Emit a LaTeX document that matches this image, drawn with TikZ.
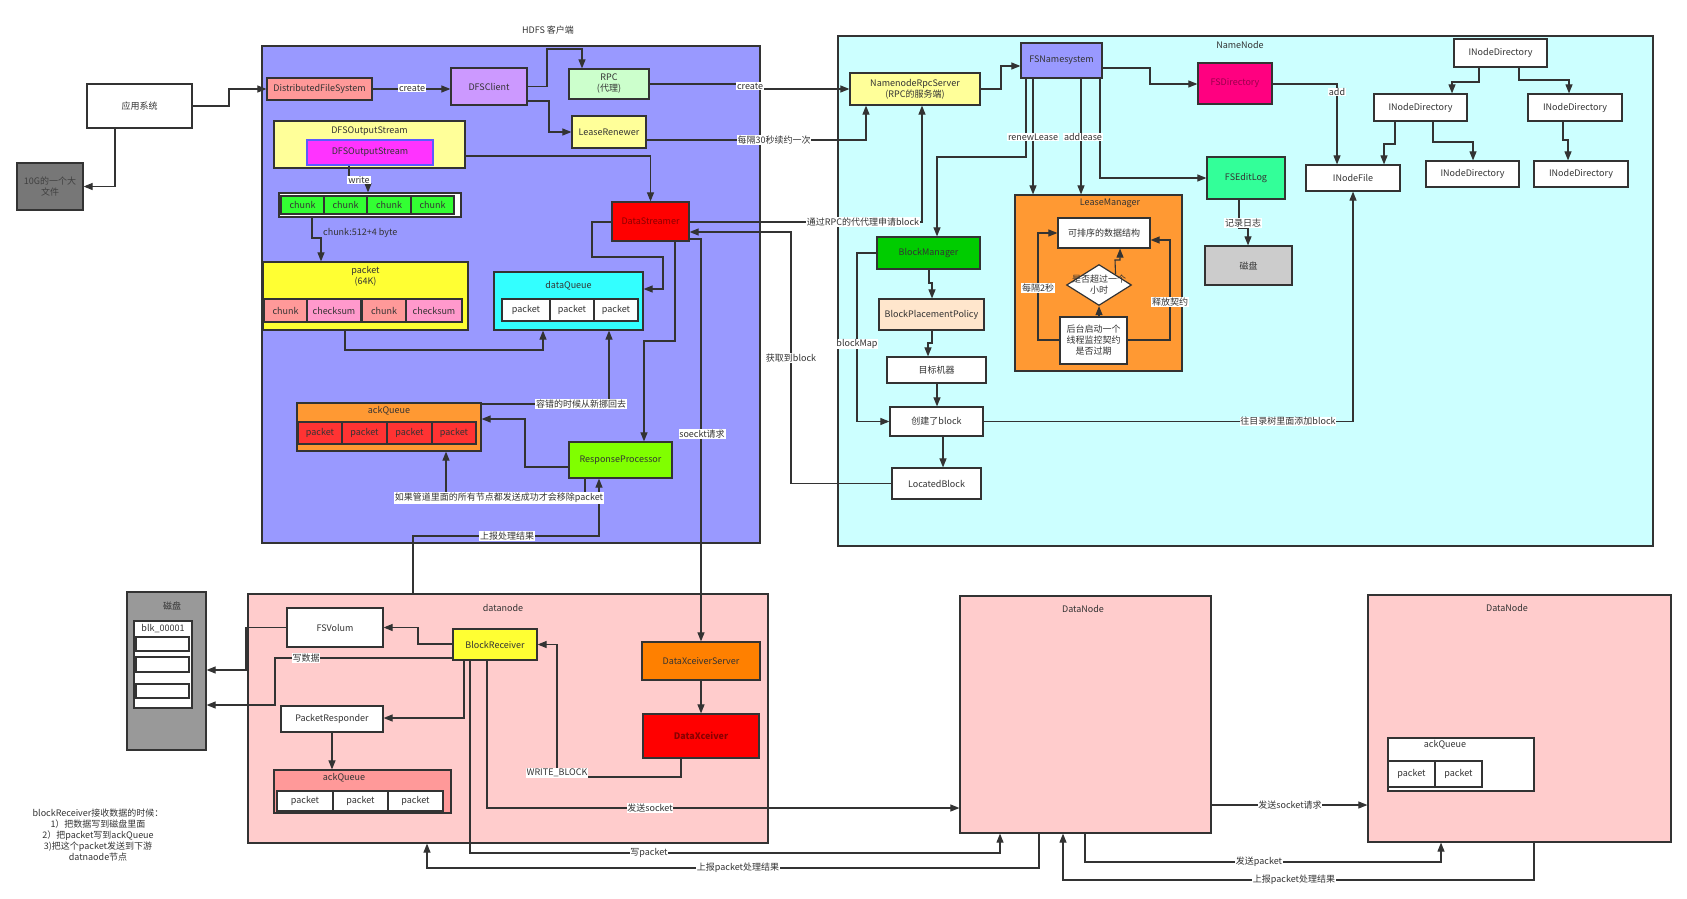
\documentclass[tikz,border=0pt]{standalone}
\usepackage{fontspec}
\setmainfont{Noto Sans CJK SC}
\usetikzlibrary{arrows.meta,shapes.geometric}
\definecolor{ln}{HTML}{333333}
\definecolor{tx}{HTML}{333333}
\definecolor{cBlue}{HTML}{9999FF}
\definecolor{cCyanL}{HTML}{CCFFFF}
\definecolor{cPink}{HTML}{FFCCCC}
\definecolor{cGray}{HTML}{999999}
\definecolor{cDark}{HTML}{777777}
\definecolor{cSalmon}{HTML}{FF9999}
\definecolor{cViolet}{HTML}{CC99FF}
\definecolor{cMint}{HTML}{CCFFCC}
\definecolor{cLYellow}{HTML}{FFFF99}
\definecolor{cMagenta}{HTML}{FF33FF}
\definecolor{cGreen}{HTML}{33FF33}
\definecolor{cYellow}{HTML}{FFFF33}
\definecolor{cCkPink}{HTML}{FF99CC}
\definecolor{cCyan}{HTML}{33FFFF}
\definecolor{cRed}{HTML}{FF0000}
\definecolor{cDRed}{HTML}{8A0000}
\definecolor{cOrange}{HTML}{FF9933}
\definecolor{cPktRed}{HTML}{FF3333}
\definecolor{cLime}{HTML}{80FF00}
\definecolor{cRose}{HTML}{FF0080}
\definecolor{cRoseT}{HTML}{99004C}
\definecolor{cSea}{HTML}{33FF99}
\definecolor{cLGray}{HTML}{CCCCCC}
\definecolor{cBM}{HTML}{00CC00}
\definecolor{cPeach}{HTML}{FFE6CC}
\definecolor{cDXS}{HTML}{FF8000}
\definecolor{cInBlue}{HTML}{5B5BFF}
\begin{document}
\begin{tikzpicture}[x=1pt,y=-1pt,font=\fontsize{9}{11}\selectfont,
 box/.style={draw=ln,line width=1.2pt,inner sep=0pt,align=center,text=tx},
 arr/.style={draw=ln,line width=1.1pt,-{Triangle[length=9pt,width=7pt]}},
 con/.style={draw=ln,line width=1.1pt},
 lbl/.style={fill=white,inner sep=0.8pt,text=tx},
 txt/.style={inner sep=0pt,text=tx,align=center}]
\useasboundingbox (0,0) rectangle (1687,899);

% ---------- containers ----------
\node[box,fill=cBlue,minimum width=498pt,minimum height=497pt] (client) at (511,294.5) {};
\node[txt] (clientT) at (548,30) {HDFS 客户端};
\node[box,fill=cCyanL,minimum width=815pt,minimum height=510pt] (nn) at (1245.5,291) {};
\node[txt] (nnT) at (1240,45) {NameNode};
\node[box,fill=cPink,minimum width=520pt,minimum height=249pt] (dn) at (508,718.5) {};
\node[txt] (dnT) at (503,608) {datanode};
\node[box,fill=cPink,minimum width=251pt,minimum height=237pt] (dn2) at (1085.5,714.5) {};
\node[txt] (dn2T) at (1083,609) {DataNode};
\node[box,fill=cPink,minimum width=303pt,minimum height=247pt] (dn3) at (1519.5,718.5) {};
\node[txt] (dn3T) at (1507,608) {DataNode};
\node[box,fill=cGray,minimum width=79pt,minimum height=158pt] (disk) at (166.5,671) {};
\node[txt] (diskT) at (172,606) {磁盘};

% ---------- left outside ----------
\node[box,fill=white,minimum width=105pt,minimum height=44pt] (app) at (139.5,106) {应用系统};
\node[box,fill=cDark,minimum width=66pt,minimum height=47pt,text=black!75] (big) at (50,186.5) {10G的一个大\\文件};

% ---------- client ----------
\node[box,fill=cSalmon,minimum width=105pt,minimum height=22pt] (dfs) at (319.5,89) {DistributedFileSystem};
\node[box,fill=cViolet,minimum width=76pt,minimum height=37pt] (dfsc) at (489,86.5) {DFSClient};
\node[box,fill=cMint,minimum width=80pt,minimum height=30pt] (rpc) at (609,84) {RPC\\(代理)};
\node[box,fill=cLYellow,minimum width=74pt,minimum height=32pt] (lr) at (609,132) {LeaseRenewer};
\node[box,fill=cLYellow,minimum width=191pt,minimum height=47pt] (dos) at (369.5,144.5) {};
\node[txt] (dosT) at (369.5,131.5) {DFSOutputStream};
\node[box,draw=cInBlue,fill=cMagenta,minimum width=126pt,minimum height=25pt] (dosin) at (370,152.5) {DFSOutputStream};

\node[box,fill=white,minimum width=182pt,minimum height=24pt] (chunks) at (370,205) {};
\node[box,fill=cGreen,minimum width=43pt,minimum height=18pt] (ch1) at (302.5,205) {chunk};
\node[box,fill=cGreen,minimum width=43pt,minimum height=18pt] (ch2) at (345.5,205) {chunk};
\node[box,fill=cGreen,minimum width=44pt,minimum height=18pt] (ch3) at (389,205) {chunk};
\node[box,fill=cGreen,minimum width=43pt,minimum height=18pt] (ch4) at (432.5,205) {chunk};

\node[box,fill=cYellow,minimum width=205pt,minimum height=68pt] (pk) at (365.5,296) {};
\node[txt] (pkT) at (365.5,276) {packet\\(64K)};
\node[box,fill=cSalmon,minimum width=43pt,minimum height=23pt] (pc1) at (285.5,310.5) {chunk};
\node[box,fill=cCkPink,minimum width=54pt,minimum height=23pt] (pc2) at (334,310.5) {checksum};
\node[box,fill=cSalmon,minimum width=44pt,minimum height=23pt] (pc3) at (384,310.5) {chunk};
\node[box,fill=cCkPink,minimum width=56pt,minimum height=23pt] (pc4) at (434,310.5) {checksum};

\node[box,fill=cCyan,minimum width=149pt,minimum height=58pt] (dq) at (568.5,301) {};
\node[txt] (dqT) at (568.5,286) {dataQueue};
\node[box,fill=white,minimum width=48pt,minimum height=22pt] (dq1) at (526,310) {packet};
\node[box,fill=white,minimum width=44pt,minimum height=22pt] (dq2) at (572,310) {packet};
\node[box,fill=white,minimum width=44pt,minimum height=22pt] (dq3) at (616,310) {packet};

\node[box,fill=cRed,minimum width=77pt,minimum height=39pt,text=cDRed] (ds) at (650.5,221.5) {DataStreamer};

\node[box,fill=cOrange,minimum width=184pt,minimum height=48pt] (aq) at (389,427) {};
\node[txt] (aqT) at (389,411) {ackQueue};
\node[box,fill=cPktRed,minimum width=44pt,minimum height=22pt] (aq1) at (320,433) {packet};
\node[box,fill=cPktRed,minimum width=45pt,minimum height=22pt] (aq2) at (364.5,433) {packet};
\node[box,fill=cPktRed,minimum width=45pt,minimum height=22pt] (aq3) at (409.5,433) {packet};
\node[box,fill=cPktRed,minimum width=44pt,minimum height=22pt] (aq4) at (454,433) {packet};

\node[box,fill=cLime,minimum width=103pt,minimum height=36pt] (rp) at (620.5,460) {ResponseProcessor};

% ---------- namenode ----------
\node[box,fill=cLYellow,minimum width=130pt,minimum height=32pt] (nrs) at (915,89) {NamenodeRpcServer\\(RPC的服务端)};
\node[box,fill=cBlue,minimum width=81pt,minimum height=35pt] (fsn) at (1061.5,60.5) {FSNamesystem};
\node[box,fill=cRose,minimum width=74pt,minimum height=41pt,text=cRoseT] (fsd) at (1235,83.5) {FSDirectory};
\node[box,fill=cSea,minimum width=78pt,minimum height=42pt] (fse) at (1246,178) {FSEditLog};
\node[box,fill=cLGray,minimum width=87pt,minimum height=39pt] (disk2) at (1248.5,265.5) {磁盘};
\node[box,fill=white,minimum width=93pt,minimum height=28pt] (inr) at (1500.5,53) {INodeDirectory};
\node[box,fill=white,minimum width=93pt,minimum height=27pt] (inl) at (1420.5,107.5) {INodeDirectory};
\node[box,fill=white,minimum width=94pt,minimum height=27pt] (inrr) at (1575,107.5) {INodeDirectory};
\node[box,fill=white,minimum width=94pt,minimum height=26pt] (inf) at (1353,178) {INodeFile};
\node[box,fill=white,minimum width=93pt,minimum height=26pt] (inm) at (1472.5,174) {INodeDirectory};
\node[box,fill=white,minimum width=94pt,minimum height=26pt] (inb) at (1581,174) {INodeDirectory};

\node[box,fill=cOrange,minimum width=167pt,minimum height=176pt] (lm) at (1098.5,283) {};
\node[txt] (lmT) at (1110,203) {LeaseManager};
\node[box,fill=white,minimum width=92pt,minimum height=30pt] (sortds) at (1104,233) {可排序的数据结构};
\node[box,shape=diamond,fill=white,minimum width=65pt,minimum height=41pt] (dia) at (1099,285) {};
\node[txt] (diaT) at (1099,285) {是否超过一个\\小时};
\node[box,fill=white,minimum width=67pt,minimum height=47pt] (bg) at (1093.5,340.5) {后台启动一个\\线程监控契约\\是否过期};

\node[box,fill=cBM,minimum width=103pt,minimum height=32pt] (bm) at (928.5,253) {BlockManager};
\node[box,fill=cPeach,minimum width=105pt,minimum height=31pt] (bpp) at (931.5,314.5) {BlockPlacementPolicy};
\node[box,fill=white,minimum width=99pt,minimum height=26pt] (tm) at (936.5,370) {目标机器};
\node[box,fill=white,minimum width=93pt,minimum height=29pt] (cb) at (936.5,421.5) {创建了block};
\node[box,fill=white,minimum width=89pt,minimum height=31pt] (lb) at (936.5,483.5) {LocatedBlock};

% ---------- datanode ----------
\node[box,fill=white,minimum width=58pt,minimum height=87pt] (blk) at (163,664.5) {};
\node[txt] (blkT) at (163,629) {blk\_00001};
\node[box,fill=white,minimum width=53pt,minimum height=14pt] (s1) at (162.5,644) {};
\node[box,fill=white,minimum width=53pt,minimum height=15pt] (s2) at (162.5,664.5) {};
\node[box,fill=white,minimum width=53pt,minimum height=14pt] (s3) at (162.5,691) {};

\node[box,fill=white,minimum width=96pt,minimum height=39pt] (fsv) at (335,627.5) {FSVolum};
\node[box,fill=cYellow,minimum width=84pt,minimum height=31pt] (br) at (495,644.5) {BlockReceiver};
\node[box,fill=white,minimum width=102pt,minimum height=26pt] (pr) at (332,719) {PacketResponder};
\node[box,fill=cSalmon,minimum width=177pt,minimum height=43pt] (aqd) at (362.5,791.5) {};
\node[txt] (aqdT) at (344,778) {ackQueue};
\node[box,fill=white,minimum width=56pt,minimum height=20pt] (aqd1) at (305,801) {packet};
\node[box,fill=white,minimum width=55pt,minimum height=20pt] (aqd2) at (360.5,801) {packet};
\node[box,fill=white,minimum width=55pt,minimum height=20pt] (aqd3) at (415.5,801) {packet};
\node[box,fill=cDXS,minimum width=118pt,minimum height=38pt] (dxs) at (701,661) {DataXceiverServer};
\node[box,fill=cRed,minimum width=116pt,minimum height=44pt,text=cDRed,font=\fontsize{9}{11}\selectfont\bfseries] (dx) at (701,736) {DataXceiver};

\node[box,fill=white,minimum width=146pt,minimum height=53pt] (aqr) at (1461,764.5) {};
\node[txt] (aqrT) at (1445,745) {ackQueue};
\node[box,fill=white,minimum width=47pt,minimum height=26pt] (aqr1) at (1411.5,774) {packet};
\node[box,fill=white,minimum width=47pt,minimum height=26pt] (aqr2) at (1458.5,774) {packet};

\node[txt] (note) at (98,835) {blockReceiver接收数据的时候：\\1）把数据写到磁盘里面\\2）把packet写到ackQueue\\3)把这个packet发送到下游\\datnaode节点};

% ---------- connectors ----------
\draw[arr] (app.east) -- (229,106) |- (dfs.west);
\draw[arr] (app.south -| 115,0) |- (big.east);
\draw[arr] (dfs.east) -- (dfsc.west |- dfs.east);
\draw[arr] (dfsc.east) -| (547,49) -| (rpc.north -| 582,0);
\draw[arr] (dfsc.east |- 0,101) -| (549,132) -- (lr.west);
\draw[arr] (rpc.east) -- (755,84) -- (755,89) -- (nrs.west);
\draw[arr] (lr.east |- 0,140) -| (nrs.south -| 866,0);
\draw[arr] (dos.east |- 0,156) -| (ds.north);
\draw[arr] (dosin.south -| 349,0) -- (349,180) -| (chunks.north -| 368,0);
\draw[arr] (chunks.south -| 312,0) -- (312,238) -| (pk.north -| 321,0);
\draw[arr] (ds.west |- 0,222) -- (592,222) -- (592,257) -- (663,257) -- (663,289) -- (dq.east |- 0,289);
\draw[arr] (pk.south -| 345,0) -- (345,350) -| (dq.south -| 543,0);
\draw[arr] (aq.east |- 0,404) -- (609,404) -- (dq.south -| 609,0);
\draw[arr] (rp.west |- 0,467) -- (525,467) -- (525,419) -- (aq.east |- 0,419);
\draw[arr] (ds.south -| 675,0) -- (675,341) -- (644,341) -- (rp.north -| 644,0);
\draw[arr] (rp.south -| 585,0) -- (585,498) -- (446,498) -- (aq.south -| 446,0);
\draw[arr] (dn.north -| 413,0) -- (413,536) -- (599,536) -- (rp.south -| 599,0);
\draw[arr] (ds.east |- 0,239) -- (701,239) -- (dxs.north);
\draw[arr] (ds.east |- 0,222) -- (922,222) -- (nrs.south -| 922,0);
\draw[arr] (lb.west) -- (791,483.5) -- (791,232) -- (ds.east |- 0,232);

\draw[arr] (nrs.east) -- (1001,89) -- (1001,66) -- (fsn.west |- 0,66);
\draw[arr] (fsn.east |- 0,68) -- (1150,68) -- (1150,84) -- (fsd.west |- 0,84);
\draw[arr] (fsd.east |- 0,84) -- (1337,84) -- (inf.north -| 1337,0);
\draw[arr] (fsn.south -| 1100,0) |- (fse.west);
\draw[arr] (fse.south -| 1239,0) -- (1239,228) -- (1248,228) -- (disk2.north -| 1248,0);
\draw[arr] (inr.south -| 1479,0) -- (1479,82) -- (1452,82) -- (inl.north -| 1452,0);
\draw[arr] (inr.south -| 1519,0) -- (1519,80) -- (1569,80) -- (inrr.north -| 1569,0);
\draw[arr] (inl.south -| 1395,0) -- (1395,144) -- (1384,144) -- (inf.north -| 1384,0);
\draw[arr] (inl.south -| 1433,0) -- (1433,142) -- (1473,142) -- (inm.north -| 1473,0);
\draw[arr] (inrr.south -| 1563,0) -- (1563,140) -- (1568,140) -- (inb.north -| 1568,0);
\draw[arr] (cb.east) -| (inf.south);
\draw[arr] (fsn.south -| 1033,0) -- (lm.north -| 1033,0);
\draw[arr] (fsn.south -| 1081,0) -- (lm.north -| 1081,0);
\draw[arr] (fsn.south -| 1026,0) -- (1026,157) -- (937,157) -- (bm.north -| 937,0);
\draw[arr] (bg.north -| dia.south) -- (dia.south);
\draw[arr] (dia.north east) -- (1115,260) -- (1120,260) -- (sortds.south -| 1120,0);
\draw[arr] (bg.west |- 0,340) -- (1038,340) -- (1038,233) -- (sortds.west);
\draw[arr] (bg.east |- 0,340) -- (1170,340) -- (1170,240) -- (sortds.east |- 0,240);
\draw[arr] (bm.south -| 929,0) -- (929,283) -- (932,283) -- (bpp.north -| 932,0);
\draw[arr] (bpp.south -| 932,0) -- (932,343) -- (928,343) -- (tm.north -| 928,0);
\draw[arr] (tm.south -| 937,0) -- (cb.north -| 937,0);
\draw[arr] (cb.south -| 943,0) -- (lb.north -| 943,0);
\draw[arr] (bm.west) -- (857,253) -- (857,421.5) -- (cb.west);

\draw[arr] (br.west |- 0,644) -- (418,644) -- (418,627.5) -- (fsv.east);
\draw[arr] (fsv.west) -- (246,627.5) -- (246,670) -- (disk.east |- 0,670);
\draw[arr] (br.west |- 0,658) -- (275,658) -- (275,705) -- (disk.east |- 0,705);
\draw[arr] (br.south -| 464,0) -- (464,718) -- (pr.east |- 0,718);
\draw[arr] (pr.south) -- (aqd.north -| pr.south);
\draw[arr] (dxs.south) -- (dx.north);
\draw[arr] (dx.south -| 681,0) -- (681,777) -- (557,777) -- (557,644.5) -- (br.east);
\draw[arr] (br.south -| 487,0) -- (487,808) -- (dn2.west |- 0,808);
\draw[arr] (br.south -| 470,0) -- (470,853) -- (1000,853) -- (dn2.south -| 1000,0);
\draw[arr] (dn2.south -| 1039,0) -- (1039,868) -- (427,868) -- (dn.south -| 427,0);
\draw[arr] (dn2.east |- 0,805) -- (dn3.west |- 0,805);
\draw[arr] (dn2.south -| 1085,0) -- (1085,862) -- (1441,862) -- (dn3.south -| 1441,0);
\draw[arr] (dn3.south -| 1534,0) -- (1534,880) -- (1063,880) -- (dn2.south -| 1063,0);

% ---------- connector labels ----------
\node[lbl] (L1) at (412,88) {create};
\node[lbl] (L2) at (750,86) {create};
\node[lbl] (L3) at (774,140) {每隔30秒续约一次};
\node[lbl] (L4) at (359,180) {write};
\node[txt,anchor=west] (L5) at (323,233) {chunk:512+4 byte};
\node[lbl] (L6) at (581,404) {容错的时候从新挪回去};
\node[lbl] (L7) at (499,498) {如果管道里面的所有节点都发送成功才会移除packet};
\node[lbl] (L8) at (507,536) {上报处理结果};
\node[lbl] (L9) at (702,434) {soeckt请求};
\node[lbl] (L10) at (863,222) {通过RPC的代代理申请block};
\node[lbl] (L11) at (791,358) {获取到block};
\node[lbl] (L12) at (1337,92) {add};
\node[lbl] (L13) at (1243,223) {记录日志};
\node[lbl] (L14) at (1288,421.5) {往目录树里面添加block};
\node[lbl] (L15) at (1033,137) {renewLease};
\node[lbl] (L16) at (1083,137) {addlease};
\node[lbl] (L17) at (1038,288) {每隔2秒};
\node[lbl] (L18) at (1170,302) {释放契约};
\node[lbl] (L19) at (857,344) {blockMap};
\node[lbl] (L20) at (306,658) {写数据};
\node[lbl] (L21) at (557,773) {WRITE\_BLOCK};
\node[lbl] (L22) at (650,808) {发送socket};
\node[lbl] (L23) at (649,853) {写packet};
\node[lbl] (L24) at (738,868) {上报packet处理结果};
\node[lbl] (L25) at (1290,805) {发送socket请求};
\node[lbl] (L26) at (1259,862) {发送packet};
\node[lbl] (L27) at (1294,880) {上报packet处理结果};
\end{tikzpicture}
\end{document}
